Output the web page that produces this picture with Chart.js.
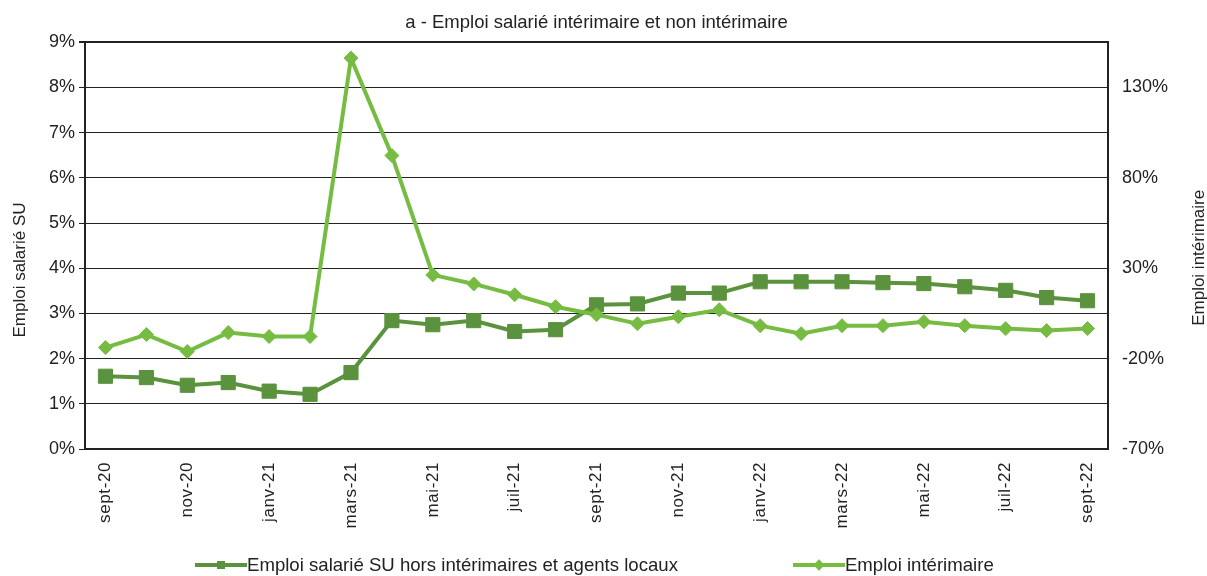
<!DOCTYPE html>
<html lang="fr">
<head>
<meta charset="utf-8">
<title>Emploi salarié intérimaire et non intérimaire</title>
<script src="https://cdn.jsdelivr.net/npm/chart.js@4.4.1/dist/chart.umd.min.js"></script>
<style>
  html, body { margin: 0; padding: 0; background: #fff; }
  #wrap { position: relative; width: 1207px; height: 576px; font-family: "Liberation Sans", Arial, sans-serif; }
  #legend { position: absolute; left: 195px; top: 555px; display: flex; align-items: center; color: #222; font-size: 18.6px; line-height: 20px; }
  .item { display: flex; align-items: center; margin-right: 115px; }
  .sym { position: relative; width: 52px; height: 20px; }
  .sym .ln { position: absolute; left: 0; right: 0; top: 8px; height: 4px; }
  .sym .mk { position: absolute; left: 22px; top: 6px; width: 8px; height: 8px; }
  .sym .mk.rot { transform: rotate(45deg); }
</style>
</head>
<body>
<div id="wrap">
  <canvas id="chart" width="1207" height="576"></canvas>
  <div id="legend"></div>
</div>
<script>
// categories (monthly, labels shown every other month)
const months = ['sept-20', 'oct-20', 'nov-20', 'déc-20', 'janv-21', 'févr-21', 'mars-21', 'avr-21',
  'mai-21', 'juin-21', 'juil-21', 'août-21', 'sept-21', 'oct-21', 'nov-21', 'déc-21',
  'janv-22', 'févr-22', 'mars-22', 'avr-22', 'mai-22', 'juin-22', 'juil-22', 'août-22', 'sept-22'];

// left axis: Emploi salarié SU hors intérimaires et agents locaux (%)
const salarie = [1.61, 1.58, 1.41, 1.47, 1.28, 1.21, 1.69, 2.84, 2.75, 2.84, 2.60, 2.64, 3.19,
  3.21, 3.45, 3.45, 3.70, 3.70, 3.70, 3.68, 3.66, 3.59, 3.51, 3.35, 3.28];

// right axis: Emploi intérimaire (%)
const interim = [-13.9, -6.7, -16.1, -5.6, -7.8, -7.8, 146.2, 92.3, 26.3, 21.3, 15.3, 8.7, 4.3,
  -0.7, 3.2, 7.0, -1.8, -6.2, -1.8, -1.8, 0.4, -1.8, -3.4, -4.5, -3.4];

const leftTicks = [0, 1, 2, 3, 4, 5, 6, 7, 8, 9];
const rightTicks = [-70, -20, 30, 80, 130];

const leftTitle = 'Emploi salarié SU';
const rightTitle = 'Emploi intérimaire';

const darkGreen = '#5B923D';
const lightGreen = '#77BC42';
const textColor = '#222';
const fontFamily = '"Liberation Sans", Arial, sans-serif';

// letter-spaced month labels, like the original
const xLabelSpacing = {
  id: 'xLabelSpacing',
  beforeDraw(chart) {
    const x = chart.scales.x;
    if (x._spaced) return;
    const draw = x.drawLabels;
    x.drawLabels = function (area) {
      this.ctx.save();
      this.ctx.letterSpacing = '0.6px';
      draw.call(this, area);
      this.ctx.restore();
    };
    x._spaced = true;
  }
};

// both axis titles read bottom to top
const axisTitles = {
  id: 'axisTitles',
  afterDraw(chart) {
    const c = chart.ctx;
    const area = chart.chartArea;
    const items = [
      [leftTitle, chart.scales.y.left + 20, area.top + area.height * 0.56],
      [rightTitle, chart.scales.y2.right - 8, area.top + area.height * 0.53]
    ];
    c.save();
    c.fillStyle = textColor;
    c.font = '17px ' + fontFamily;
    c.textAlign = 'center';
    c.textBaseline = 'middle';
    items.forEach(([text, x, y]) => {
      c.save();
      c.translate(x, y);
      c.rotate(-Math.PI / 2);
      c.fillText(text, 0, 0);
      c.restore();
    });
    c.restore();
  }
};

// html legend built from the datasets
const htmlLegend = {
  id: 'htmlLegend',
  afterUpdate(chart) {
    const box = document.getElementById('legend');
    box.innerHTML = chart.data.datasets.map(ds => `
      <div class="item">
        <span class="sym">
          <span class="ln" style="background:${ds.borderColor}"></span>
          <span class="mk ${ds.pointStyle === 'rectRot' ? 'rot' : ''}" style="background:${ds.borderColor}"></span>
        </span>
        <span>${ds.label}</span>
      </div>
    `).join('');
  }
};

const ctx = document.getElementById('chart').getContext('2d');
new Chart(ctx, {
  type: 'line',
  data: {
    labels: months,
    datasets: [{
      label: 'Emploi salarié SU hors intérimaires et agents locaux',
      data: salarie,
      yAxisID: 'y',
      order: 1,
      borderColor: darkGreen,
      backgroundColor: darkGreen,
      borderWidth: 4,
      pointStyle: 'rect',
      pointRadius: 10,
      pointBorderWidth: 1,
      tension: 0
    }, {
      label: 'Emploi intérimaire',
      data: interim,
      yAxisID: 'y2',
      order: 0,
      borderColor: lightGreen,
      backgroundColor: lightGreen,
      borderWidth: 4,
      pointStyle: 'rectRot',
      pointRadius: 7,
      pointBorderWidth: 1,
      tension: 0
    }]
  },
  options: {
    responsive: false,
    animation: false,
    layout: { padding: 0 },
    font: { family: fontFamily },
    plugins: {
      legend: { display: false },
      tooltip: { enabled: false },
      title: {
        display: true,
        fullSize: false,
        text: 'a - Emploi salarié intérimaire et non intérimaire',
        color: textColor,
        font: { size: 18.5, weight: 'normal' },
        padding: { top: 12, bottom: 8 }
      }
    },
    scales: {
      x: {
        offset: true,
        grid: { display: false },
        border: { color: textColor, width: 2 },
        ticks: {
          autoSkip: false,
          maxRotation: 90,
          minRotation: 90,
          padding: 5,
          color: textColor,
          font: { size: 17 },
          callback: (v, i) => (i % 2 === 0 ? months[i] : '')
        },
        afterFit: s => { s.height = 127; }
      },
      y: {
        position: 'left',
        min: leftTicks[0],
        max: leftTicks[leftTicks.length - 1],
        afterBuildTicks: s => { s.ticks = leftTicks.map(v => ({ value: v })); },
        grid: {
          color: textColor,
          lineWidth: c => (c.tick && c.tick.value === 9 ? 2 : 1),
          drawTicks: true,
          tickLength: 6,
          tickColor: textColor
        },
        border: { color: textColor, width: 2 },
        ticks: {
          padding: 4,
          color: textColor,
          font: { size: 18 },
          callback: v => v + '%'
        },
        afterFit: s => { s.width = 85; }
      },
      y2: {
        position: 'right',
        min: -70,
        max: 155,
        afterBuildTicks: s => { s.ticks = rightTicks.map(v => ({ value: v })); },
        grid: { display: false, drawTicks: false },
        border: { color: textColor, width: 2 },
        ticks: {
          padding: 14,
          color: textColor,
          font: { size: 18 },
          callback: v => v + '%'
        },
        afterFit: s => { s.width = 99; }
      }
    }
  },
  plugins: [xLabelSpacing, axisTitles, htmlLegend]
});
</script>
</body>
</html>
